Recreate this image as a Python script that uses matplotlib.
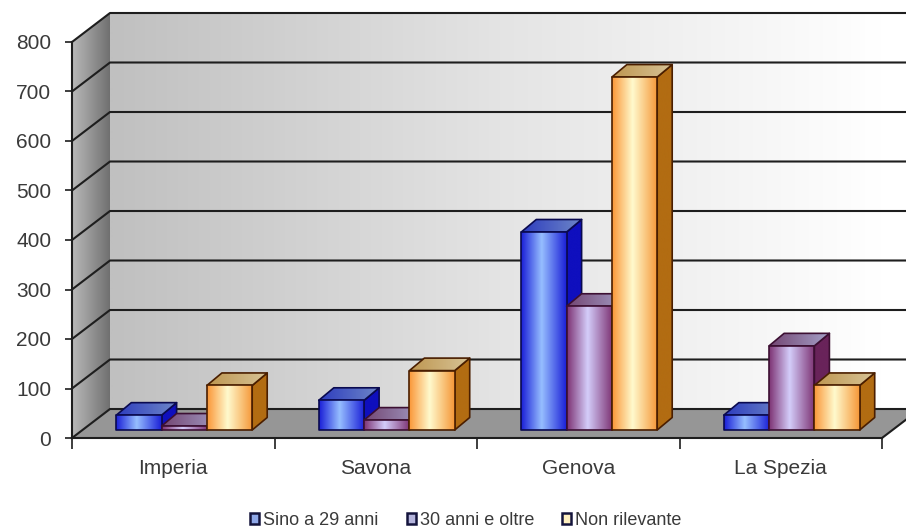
import numpy as np
import matplotlib
matplotlib.use("Agg")
import matplotlib.pyplot as plt
from matplotlib.patches import Polygon, Patch

plt.rcParams['font.family'] = ['Liberation Sans', 'DejaVu Sans']

# data
provinces = ['Imperia', 'Savona', 'Genova', 'La Spezia']
series_names = ['Sino a 29 anni', '30 anni e oltre', 'Non rilevante']
sino_29 = [30, 60, 400, 30]
oltre_30 = [8, 20, 250, 170]
non_rilevante = [90, 120, 713, 90]
y_ticks = [0, 100, 200, 300, 400, 500, 600, 700, 800]

# pixel sizes of the fake 3d, turned into data units below
px_x = 202.5
px_y = 0.495
wall_dx = 38 / px_x
wall_dy = 29 / px_y
bar_w = 45.3 / px_x
bar_dx = 15 / px_x
bar_dy = 12.5 / px_y
front_dx = 11 / px_x
front_dy = 8 / px_y

styles = [
    dict(front=[(25, 30, 215), (150, 190, 255), (25, 30, 215)], side=(15, 15, 190),
         top=[(45, 60, 190), (110, 135, 200)], edge='#0a0a50', legend='#8fa8e8'),
    dict(front=[(125, 50, 115), (212, 205, 250), (125, 50, 115)], side=(105, 35, 90),
         top=[(115, 70, 115), (165, 160, 200)], edge='#3c0f32', legend='#b4b4dc'),
    dict(front=[(250, 150, 55), (255, 250, 205), (245, 150, 55)], side=(178, 108, 18),
         top=[(190, 150, 80), (215, 195, 150)], edge='#4a1e00', legend='#fff0c0'),
]

fig = plt.figure(figsize=(9.06, 5.31), dpi=100)
ax = fig.add_axes([72 / 906, (531 - 438) / 531, 810 / 906, 396 / 531])


def gradient(stops, pos=None):
    stops = np.array(stops, dtype=float) / 255
    if pos is None:
        pos = np.linspace(0, 1, len(stops))
    t = np.linspace(0, 1, 128)
    g = np.stack([np.interp(t, pos, stops[:, i]) for i in range(3)], axis=-1)
    return g[None, :, :]


def filled(points, stops, pos=None, zorder=1, edge='none', lw=0):
    # gradient image clipped to a polygon, left to right
    xs = [p[0] for p in points]
    ys = [p[1] for p in points]
    poly = Polygon(points, closed=True, facecolor='none', edgecolor=edge, lw=lw,
                   zorder=zorder + 0.01, clip_on=False, joinstyle='round')
    ax.add_patch(poly)
    im = ax.imshow(gradient(stops, pos), extent=(min(xs), max(xs), min(ys), max(ys)),
                   aspect='auto', interpolation='bilinear', zorder=zorder)
    im.set_clip_box(fig.bbox)
    im.set_clip_path(poly)


# walls and floor
side = [(0, 0), (wall_dx, wall_dy), (wall_dx, 800 + wall_dy), (0, 800)]
filled(side, [(185, 185, 185), (112, 112, 112)], zorder=1)
back = [(wall_dx, wall_dy), (4.2, wall_dy), (4.2, 800 + wall_dy), (wall_dx, 800 + wall_dy)]
filled(back, [(192, 192, 192), (228, 228, 228), (255, 255, 255)], pos=[0, 0.48, 0.95], zorder=1)
floor = Polygon([(0, 0), (4, 0), (4 + wall_dx, wall_dy), (wall_dx, wall_dy)], closed=True,
                facecolor='#969696', edgecolor='none', zorder=1.5, clip_on=False)
ax.add_patch(floor)

# grid on both walls
for v in y_ticks:
    ax.plot([0, wall_dx, 4.2], [v, v + wall_dy, v + wall_dy], color='#1e1e1e', lw=1.5,
            zorder=2, clip_on=False, solid_joinstyle='round')
ax.plot([4, 4 + wall_dx], [0, wall_dy], color='#1e1e1e', lw=1.5, zorder=2, clip_on=False)

# bars, left to right inside each group
all_series = [sino_29, oltre_30, non_rilevante]
z = 3
for i in range(len(provinces)):
    left = i + 0.5 + front_dx - 1.5 * bar_w
    for j, values in enumerate(all_series):
        st = styles[j]
        x0 = left + j * bar_w
        x1 = x0 + bar_w
        y0 = front_dy
        y1 = values[i] + front_dy
        filled([(x1, y0), (x1 + bar_dx, y0 + bar_dy), (x1 + bar_dx, y1 + bar_dy), (x1, y1)],
               [st['side'], st['side']], zorder=z, edge=st['edge'], lw=1.2)
        filled([(x0, y1), (x1, y1), (x1 + bar_dx, y1 + bar_dy), (x0 + bar_dx, y1 + bar_dy)],
               st['top'], zorder=z + 0.1, edge=st['edge'], lw=1.2)
        filled([(x0, y0), (x1, y0), (x1, y1), (x0, y1)],
               st['front'], pos=[0, 0.45, 1], zorder=z + 0.2, edge=st['edge'], lw=1.2)
        z += 1

ax.set_xlim(0, 4)
ax.set_ylim(0, 800)
ax.patch.set_visible(False)
for s in ['top', 'right']:
    ax.spines[s].set_visible(False)
for s in ['left', 'bottom']:
    ax.spines[s].set_color('#1e1e1e')
    ax.spines[s].set_linewidth(1.5)
    ax.spines[s].set_zorder(2.5)

ax.set_yticks(y_ticks)
ax.set_xticks(range(5))
ax.set_xticklabels([])
ax.set_xticks([0.5, 1.5, 2.5, 3.5], minor=True)
ax.set_xticklabels(provinces, minor=True)
ax.tick_params(axis='y', length=5, width=1.2, color='#1e1e1e', labelsize=15,
               labelcolor='#3a3a3a', pad=10)
ax.tick_params(axis='x', which='major', length=8, width=1.2, color='#1e1e1e')
ax.tick_params(axis='x', which='minor', length=0, labelsize=15, labelcolor='#3a3a3a', pad=15)

handles = [Patch(facecolor=st['legend'], edgecolor='#14143c', lw=1.8) for st in styles]
fig.legend(handles, series_names, loc='lower left', bbox_to_anchor=(242 / 906, -6 / 531), ncol=3,
           frameon=False, fontsize=13, labelcolor='#3a3a3a', handlelength=0.5, handleheight=0.5,
           handletextpad=0.22, columnspacing=1.56, borderpad=0.25, borderaxespad=0.2)

fig.savefig('out.png', dpi=100, facecolor='white')
